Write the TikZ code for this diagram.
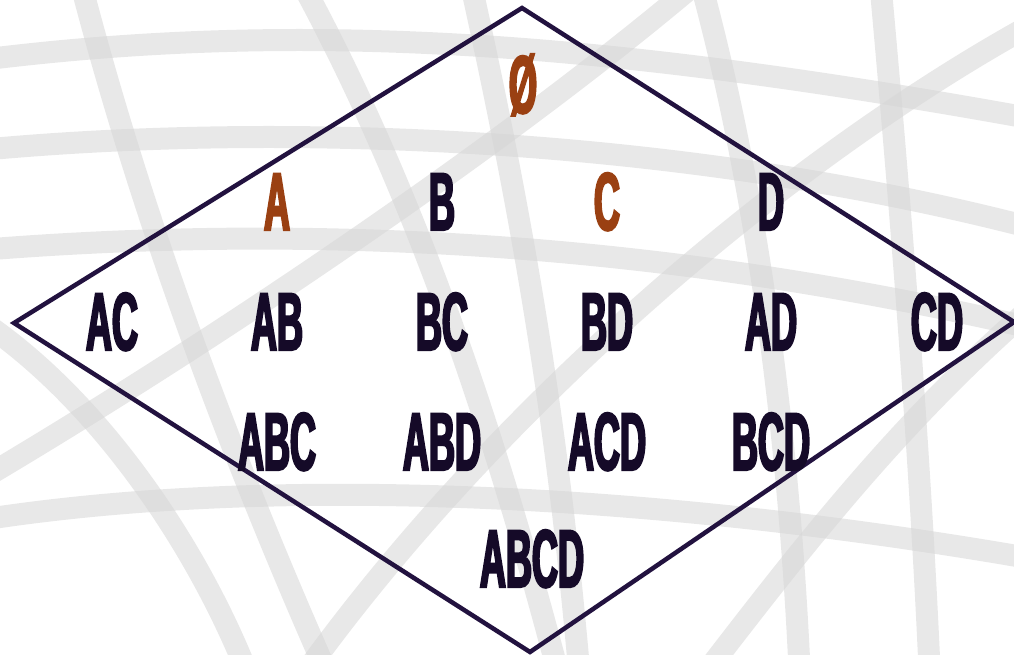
\documentclass[tikz,border=0pt]{standalone}
\usepackage{fontspec}
\newfontfamily\labfont[FakeStretch=0.44,FakeBold=2.5]{Liberation Sans Bold}
\definecolor{ink}{HTML}{150A28}
\definecolor{rust}{HTML}{9A4012}
\definecolor{edge}{HTML}{22123F}
\definecolor{bar}{HTML}{D6D6D6}
\begin{document}
\begin{tikzpicture}[x=1pt,y=-1pt,
  lab/.style={font=\labfont\fontsize{82}{82}\selectfont, text=ink, anchor=base, inner sep=0pt},
  hl/.style={lab, text=rust},
  band/.style={draw=bar, line width=22pt, line cap=round, opacity=0.55}]
\useasboundingbox (0,0) rectangle (1014,655);
\fill[white] (0,0) rectangle (1014,655);
% background texture (curved bars)
\begin{scope}
\clip (0,0) rectangle (1014,655);
\draw[band] (-20,60) .. controls (300,20) and (600,40) .. (1040,120);
\draw[band] (-20,150) .. controls (300,120) and (700,140) .. (1040,230);
\draw[band] (-20,250) .. controls (350,220) and (700,250) .. (1040,330);
\draw[band] (-20,520) .. controls (300,470) and (700,500) .. (1040,560);
\draw[band] (80,-20) .. controls (150,250) and (250,500) .. (330,680);
\draw[band] (300,-20) .. controls (420,200) and (500,450) .. (560,680);
\draw[band] (470,-20) .. controls (530,250) and (560,450) .. (580,680);
\draw[band] (700,-20) .. controls (760,200) and (790,450) .. (800,680);
\draw[band] (880,-20) .. controls (900,200) and (920,450) .. (930,680);
\draw[band] (1040,20) .. controls (800,150) and (500,400) .. (300,680);
\draw[band] (700,-20) .. controls (500,150) and (200,350) .. (-20,480);
\draw[band] (1040,300) .. controls (900,420) and (800,550) .. (700,680);
\draw[band] (-20,320) .. controls (100,400) and (200,550) .. (250,680);
\end{scope}
% diamond
\coordinate (top) at (522,8);
\coordinate (left) at (14,323);
\coordinate (bot) at (530,652);
\coordinate (right) at (1014,322);
\draw[edge, line width=4.5pt, line join=miter] (top) -- (right) -- (bot) -- (left) -- cycle;
% labels
\node[hl] (empty) at (523,113) {Ø};
\node[hl]  (A) at (277,230) {A};
\node[lab] (B) at (442,230) {B};
\node[hl]  (C) at (607,230) {C};
\node[lab] (D) at (771,230) {D};
\node[lab] (AC) at (112,350) {AC};
\node[lab] (AB) at (277,350) {AB};
\node[lab] (BC) at (442,350) {BC};
\node[lab] (BD) at (607,350) {BD};
\node[lab] (AD) at (771,350) {AD};
\node[lab] (CD) at (937,350) {CD};
\node[lab] (ABC) at (277,470) {ABC};
\node[lab] (ABD) at (442,470) {ABD};
\node[lab] (ACD) at (607,470) {ACD};
\node[lab] (BCD) at (771,470) {BCD};
\node[lab] (ABCD) at (532,587) {ABCD};
\end{tikzpicture}
\end{document}
